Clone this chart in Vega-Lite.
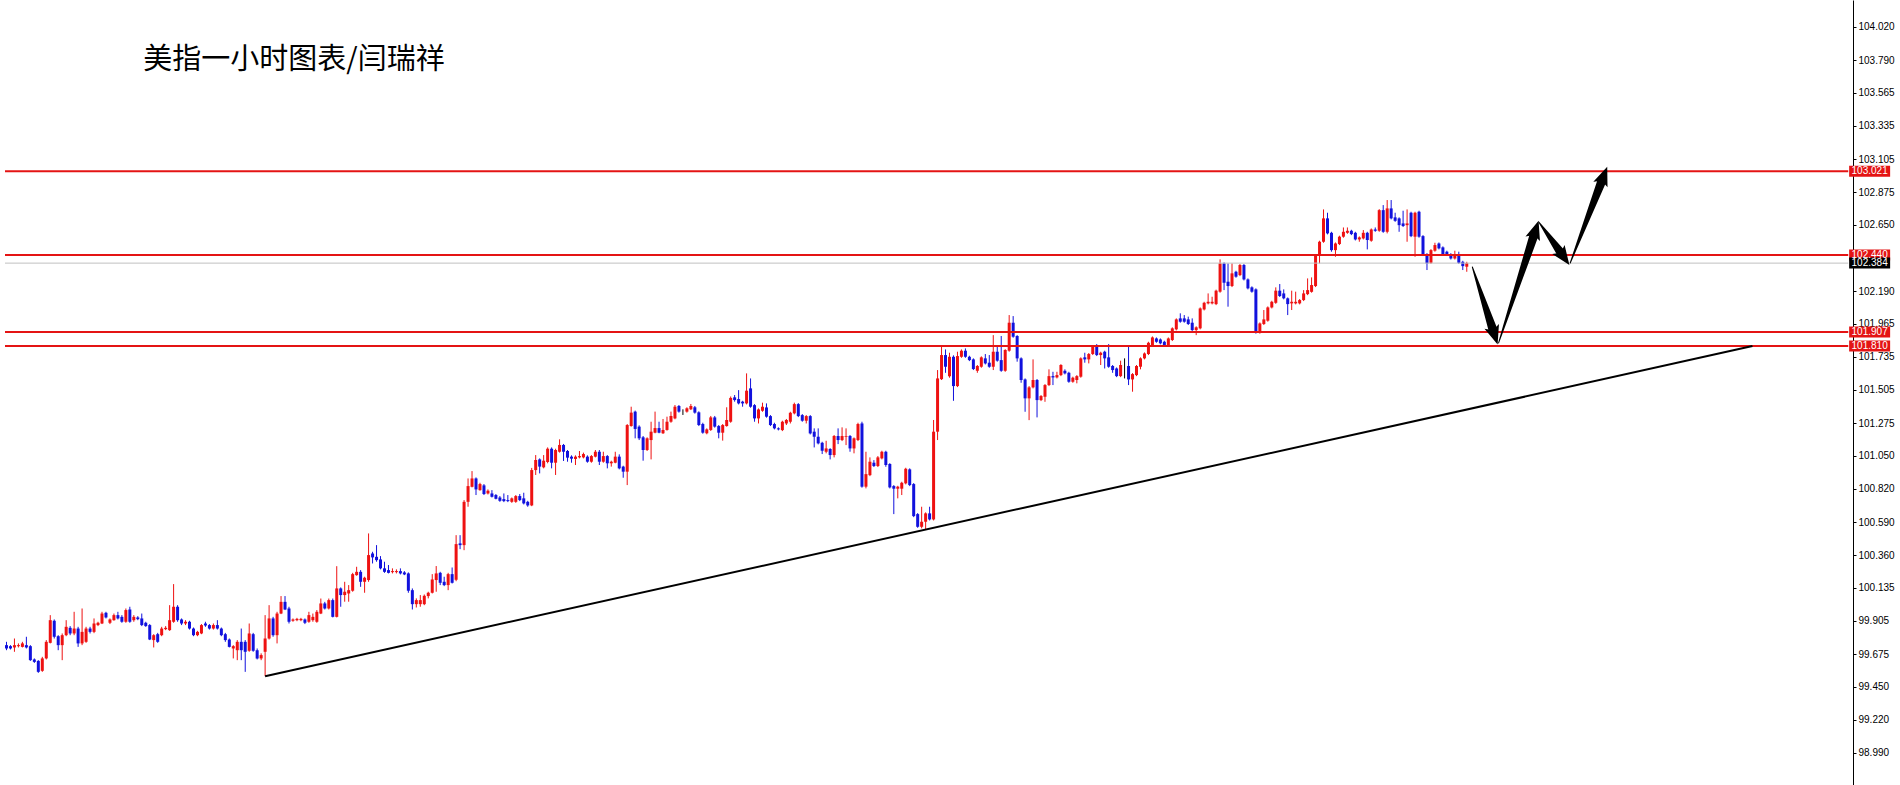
{
"$schema": "https://vega.github.io/schema/vega-lite/v6.json",
"width": 1900, "height": 785,
"autosize": {"type": "none"},
"padding": 0,
"background": "white",
"config": {"view": {"stroke": null}, "axis": {"labelOverlap": false}, "axisY": {"labelOverlap": false, "tickCount": 40}},
"datasets": {
"candles": [
{"i":0,"o":99.737,"h":99.760,"l":99.702,"c":99.714},
{"i":1,"o":99.730,"h":99.737,"l":99.707,"c":99.714},
{"i":2,"o":99.721,"h":99.783,"l":99.691,"c":99.737},
{"i":3,"o":99.730,"h":99.749,"l":99.721,"c":99.737},
{"i":4,"o":99.725,"h":99.760,"l":99.721,"c":99.749},
{"i":5,"o":99.737,"h":99.795,"l":99.714,"c":99.721},
{"i":6,"o":99.730,"h":99.737,"l":99.628,"c":99.633},
{"i":7,"o":99.638,"h":99.645,"l":99.614,"c":99.621},
{"i":8,"o":99.628,"h":99.633,"l":99.545,"c":99.552},
{"i":9,"o":99.559,"h":99.656,"l":99.552,"c":99.645},
{"i":10,"o":99.645,"h":99.772,"l":99.638,"c":99.760},
{"i":11,"o":99.753,"h":99.945,"l":99.749,"c":99.910},
{"i":12,"o":99.906,"h":99.915,"l":99.783,"c":99.795},
{"i":13,"o":99.799,"h":99.806,"l":99.702,"c":99.737},
{"i":14,"o":99.737,"h":99.818,"l":99.633,"c":99.806},
{"i":15,"o":99.806,"h":99.910,"l":99.799,"c":99.864},
{"i":16,"o":99.857,"h":99.869,"l":99.806,"c":99.818},
{"i":17,"o":99.818,"h":99.968,"l":99.806,"c":99.852},
{"i":18,"o":99.852,"h":99.864,"l":99.725,"c":99.749},
{"i":19,"o":99.749,"h":99.991,"l":99.737,"c":99.829},
{"i":20,"o":99.760,"h":99.864,"l":99.753,"c":99.852},
{"i":21,"o":99.852,"h":99.864,"l":99.818,"c":99.829},
{"i":22,"o":99.829,"h":99.922,"l":99.820,"c":99.887},
{"i":23,"o":99.876,"h":99.899,"l":99.869,"c":99.892},
{"i":24,"o":99.887,"h":99.968,"l":99.883,"c":99.956},
{"i":25,"o":99.961,"h":99.968,"l":99.922,"c":99.929},
{"i":26,"o":99.892,"h":99.922,"l":99.883,"c":99.915},
{"i":27,"o":99.910,"h":99.956,"l":99.906,"c":99.945},
{"i":28,"o":99.945,"h":99.968,"l":99.915,"c":99.922},
{"i":29,"o":99.933,"h":99.945,"l":99.892,"c":99.899},
{"i":30,"o":99.899,"h":99.991,"l":99.892,"c":99.980},
{"i":31,"o":99.984,"h":100.003,"l":99.892,"c":99.899},
{"i":32,"o":99.910,"h":99.945,"l":99.899,"c":99.933},
{"i":33,"o":99.929,"h":99.938,"l":99.910,"c":99.917},
{"i":34,"o":99.922,"h":99.956,"l":99.869,"c":99.876},
{"i":35,"o":99.892,"h":99.899,"l":99.864,"c":99.869},
{"i":36,"o":99.876,"h":99.883,"l":99.772,"c":99.776},
{"i":37,"o":99.772,"h":99.813,"l":99.721,"c":99.806},
{"i":38,"o":99.813,"h":99.822,"l":99.753,"c":99.760},
{"i":39,"o":99.806,"h":99.864,"l":99.799,"c":99.852},
{"i":40,"o":99.848,"h":99.869,"l":99.841,"c":99.857},
{"i":41,"o":99.841,"h":100.014,"l":99.836,"c":99.910},
{"i":42,"o":99.899,"h":100.160,"l":99.892,"c":100.003},
{"i":43,"o":100.003,"h":100.014,"l":99.899,"c":99.910},
{"i":44,"o":99.915,"h":99.922,"l":99.876,"c":99.887},
{"i":45,"o":99.887,"h":99.910,"l":99.876,"c":99.899},
{"i":46,"o":99.899,"h":99.906,"l":99.845,"c":99.852},
{"i":47,"o":99.852,"h":99.859,"l":99.799,"c":99.806},
{"i":48,"o":99.806,"h":99.836,"l":99.799,"c":99.829},
{"i":49,"o":99.818,"h":99.883,"l":99.813,"c":99.876},
{"i":50,"o":99.887,"h":99.899,"l":99.864,"c":99.873},
{"i":51,"o":99.876,"h":99.883,"l":99.845,"c":99.852},
{"i":52,"o":99.852,"h":99.887,"l":99.845,"c":99.876},
{"i":53,"o":99.876,"h":99.910,"l":99.845,"c":99.852},
{"i":54,"o":99.852,"h":99.859,"l":99.799,"c":99.806},
{"i":55,"o":99.813,"h":99.822,"l":99.760,"c":99.772},
{"i":56,"o":99.776,"h":99.783,"l":99.721,"c":99.725},
{"i":57,"o":99.714,"h":99.737,"l":99.645,"c":99.730},
{"i":58,"o":99.702,"h":99.772,"l":99.633,"c":99.760},
{"i":59,"o":99.760,"h":99.852,"l":99.633,"c":99.702},
{"i":60,"o":99.760,"h":99.772,"l":99.552,"c":99.691},
{"i":61,"o":99.698,"h":99.887,"l":99.691,"c":99.818},
{"i":62,"o":99.813,"h":99.822,"l":99.691,"c":99.698},
{"i":63,"o":99.702,"h":99.714,"l":99.638,"c":99.645},
{"i":64,"o":99.645,"h":99.680,"l":99.633,"c":99.668},
{"i":65,"o":99.691,"h":99.945,"l":99.522,"c":99.783},
{"i":66,"o":99.783,"h":100.014,"l":99.776,"c":99.922},
{"i":67,"o":99.922,"h":99.933,"l":99.795,"c":99.806},
{"i":68,"o":99.806,"h":99.968,"l":99.749,"c":99.956},
{"i":69,"o":99.956,"h":100.077,"l":99.952,"c":100.037},
{"i":70,"o":100.037,"h":100.077,"l":99.980,"c":99.984},
{"i":71,"o":99.991,"h":100.003,"l":99.887,"c":99.899},
{"i":72,"o":99.906,"h":99.922,"l":99.899,"c":99.915},
{"i":73,"o":99.910,"h":99.926,"l":99.903,"c":99.919},
{"i":74,"o":99.910,"h":99.926,"l":99.903,"c":99.919},
{"i":75,"o":99.915,"h":99.922,"l":99.883,"c":99.892},
{"i":76,"o":99.899,"h":99.968,"l":99.892,"c":99.945},
{"i":77,"o":99.910,"h":99.956,"l":99.899,"c":99.933},
{"i":78,"o":99.899,"h":99.980,"l":99.892,"c":99.968},
{"i":79,"o":99.956,"h":100.060,"l":99.952,"c":100.026},
{"i":80,"o":100.026,"h":100.037,"l":99.984,"c":99.991},
{"i":81,"o":99.991,"h":100.060,"l":99.984,"c":100.049},
{"i":82,"o":100.049,"h":100.060,"l":99.929,"c":99.933},
{"i":83,"o":99.933,"h":100.284,"l":99.929,"c":100.130},
{"i":84,"o":100.130,"h":100.137,"l":100.003,"c":100.084},
{"i":85,"o":100.084,"h":100.176,"l":100.038,"c":100.107},
{"i":86,"o":100.095,"h":100.153,"l":100.038,"c":100.118},
{"i":87,"o":100.114,"h":100.238,"l":100.107,"c":100.229},
{"i":88,"o":100.222,"h":100.280,"l":100.218,"c":100.245},
{"i":89,"o":100.245,"h":100.257,"l":100.141,"c":100.176},
{"i":90,"o":100.176,"h":100.211,"l":100.100,"c":100.204},
{"i":91,"o":100.188,"h":100.511,"l":100.176,"c":100.361},
{"i":92,"o":100.372,"h":100.384,"l":100.303,"c":100.345},
{"i":93,"o":100.349,"h":100.430,"l":100.315,"c":100.326},
{"i":94,"o":100.331,"h":100.354,"l":100.262,"c":100.269},
{"i":95,"o":100.269,"h":100.315,"l":100.238,"c":100.245},
{"i":96,"o":100.257,"h":100.292,"l":100.234,"c":100.238},
{"i":97,"o":100.243,"h":100.269,"l":100.234,"c":100.250},
{"i":98,"o":100.243,"h":100.262,"l":100.234,"c":100.250},
{"i":99,"o":100.250,"h":100.269,"l":100.227,"c":100.234},
{"i":100,"o":100.241,"h":100.250,"l":100.222,"c":100.227},
{"i":101,"o":100.234,"h":100.241,"l":100.100,"c":100.114},
{"i":102,"o":100.118,"h":100.130,"l":99.984,"c":100.021},
{"i":103,"o":100.021,"h":100.061,"l":99.998,"c":100.049},
{"i":104,"o":100.021,"h":100.084,"l":100.003,"c":100.049},
{"i":105,"o":100.021,"h":100.088,"l":100.014,"c":100.079},
{"i":106,"o":100.077,"h":100.107,"l":100.061,"c":100.100},
{"i":107,"o":100.100,"h":100.229,"l":100.095,"c":100.192},
{"i":108,"o":100.188,"h":100.285,"l":100.107,"c":100.234},
{"i":109,"o":100.238,"h":100.245,"l":100.153,"c":100.169},
{"i":110,"o":100.176,"h":100.211,"l":100.146,"c":100.153},
{"i":111,"o":100.153,"h":100.238,"l":100.118,"c":100.229},
{"i":112,"o":100.229,"h":100.275,"l":100.164,"c":100.169},
{"i":113,"o":100.190,"h":100.499,"l":100.180,"c":100.437},
{"i":114,"o":100.442,"h":100.499,"l":100.402,"c":100.430},
{"i":115,"o":100.430,"h":100.742,"l":100.395,"c":100.730},
{"i":116,"o":100.730,"h":100.892,"l":100.696,"c":100.839},
{"i":117,"o":100.834,"h":100.943,"l":100.830,"c":100.892},
{"i":118,"o":100.892,"h":100.899,"l":100.777,"c":100.816},
{"i":119,"o":100.811,"h":100.862,"l":100.807,"c":100.853},
{"i":120,"o":100.844,"h":100.853,"l":100.777,"c":100.784},
{"i":121,"o":100.788,"h":100.816,"l":100.781,"c":100.807},
{"i":122,"o":100.788,"h":100.811,"l":100.760,"c":100.765},
{"i":123,"o":100.777,"h":100.784,"l":100.747,"c":100.751},
{"i":124,"o":100.760,"h":100.770,"l":100.730,"c":100.737},
{"i":125,"o":100.749,"h":100.788,"l":100.728,"c":100.735},
{"i":126,"o":100.742,"h":100.777,"l":100.728,"c":100.735},
{"i":127,"o":100.730,"h":100.760,"l":100.723,"c":100.754},
{"i":128,"o":100.730,"h":100.777,"l":100.723,"c":100.770},
{"i":129,"o":100.770,"h":100.784,"l":100.735,"c":100.742},
{"i":130,"o":100.754,"h":100.793,"l":100.712,"c":100.719},
{"i":131,"o":100.730,"h":100.737,"l":100.696,"c":100.705},
{"i":132,"o":100.705,"h":100.965,"l":100.700,"c":100.950},
{"i":133,"o":100.950,"h":101.054,"l":100.916,"c":101.020},
{"i":134,"o":101.024,"h":101.031,"l":100.927,"c":100.974},
{"i":135,"o":100.969,"h":101.054,"l":100.962,"c":101.015},
{"i":136,"o":101.006,"h":101.107,"l":100.997,"c":101.098},
{"i":137,"o":101.098,"h":101.107,"l":100.962,"c":101.001},
{"i":138,"o":101.001,"h":101.098,"l":100.916,"c":101.089},
{"i":139,"o":101.077,"h":101.163,"l":101.071,"c":101.124},
{"i":140,"o":101.124,"h":101.131,"l":101.013,"c":101.077},
{"i":141,"o":101.082,"h":101.089,"l":101.008,"c":101.036},
{"i":142,"o":101.043,"h":101.052,"l":101.001,"c":101.029},
{"i":143,"o":101.027,"h":101.052,"l":100.985,"c":101.043},
{"i":144,"o":101.038,"h":101.082,"l":101.031,"c":101.047},
{"i":145,"o":101.038,"h":101.071,"l":101.031,"c":101.061},
{"i":146,"o":101.043,"h":101.052,"l":101.001,"c":101.008},
{"i":147,"o":101.008,"h":101.054,"l":101.001,"c":101.047},
{"i":148,"o":101.043,"h":101.089,"l":101.038,"c":101.077},
{"i":149,"o":101.077,"h":101.089,"l":100.985,"c":101.008},
{"i":150,"o":101.008,"h":101.077,"l":101.001,"c":101.047},
{"i":151,"o":101.047,"h":101.054,"l":100.962,"c":100.997},
{"i":152,"o":100.997,"h":101.015,"l":100.974,"c":101.008},
{"i":153,"o":101.001,"h":101.077,"l":100.997,"c":101.043},
{"i":154,"o":101.043,"h":101.059,"l":100.955,"c":100.962},
{"i":155,"o":100.974,"h":100.980,"l":100.897,"c":100.939},
{"i":156,"o":100.939,"h":101.269,"l":100.846,"c":101.262},
{"i":157,"o":101.255,"h":101.389,"l":101.251,"c":101.348},
{"i":158,"o":101.355,"h":101.362,"l":101.170,"c":101.235},
{"i":159,"o":101.251,"h":101.260,"l":101.158,"c":101.170},
{"i":160,"o":101.177,"h":101.186,"l":101.015,"c":101.089},
{"i":161,"o":101.089,"h":101.177,"l":101.082,"c":101.170},
{"i":162,"o":101.158,"h":101.285,"l":101.024,"c":101.216},
{"i":163,"o":101.209,"h":101.355,"l":101.205,"c":101.241},
{"i":164,"o":101.241,"h":101.285,"l":101.205,"c":101.209},
{"i":165,"o":101.205,"h":101.304,"l":101.200,"c":101.228},
{"i":166,"o":101.228,"h":101.320,"l":101.223,"c":101.285},
{"i":167,"o":101.285,"h":101.355,"l":101.278,"c":101.325},
{"i":168,"o":101.308,"h":101.401,"l":101.302,"c":101.389},
{"i":169,"o":101.394,"h":101.401,"l":101.348,"c":101.355},
{"i":170,"o":101.355,"h":101.371,"l":101.332,"c":101.355},
{"i":171,"o":101.355,"h":101.385,"l":101.348,"c":101.378},
{"i":172,"o":101.371,"h":101.408,"l":101.366,"c":101.394},
{"i":173,"o":101.385,"h":101.394,"l":101.341,"c":101.348},
{"i":174,"o":101.350,"h":101.357,"l":101.255,"c":101.262},
{"i":175,"o":101.269,"h":101.278,"l":101.202,"c":101.209},
{"i":176,"o":101.205,"h":101.239,"l":101.198,"c":101.232},
{"i":177,"o":101.228,"h":101.325,"l":101.221,"c":101.315},
{"i":178,"o":101.315,"h":101.325,"l":101.244,"c":101.251},
{"i":179,"o":101.255,"h":101.262,"l":101.170,"c":101.209},
{"i":180,"o":101.209,"h":101.269,"l":101.154,"c":101.262},
{"i":181,"o":101.255,"h":101.385,"l":101.251,"c":101.297},
{"i":182,"o":101.285,"h":101.460,"l":101.278,"c":101.450},
{"i":183,"o":101.454,"h":101.470,"l":101.424,"c":101.435},
{"i":184,"o":101.442,"h":101.504,"l":101.405,"c":101.412},
{"i":185,"o":101.424,"h":101.430,"l":101.389,"c":101.412},
{"i":186,"o":101.412,"h":101.620,"l":101.405,"c":101.500},
{"i":187,"o":101.516,"h":101.585,"l":101.382,"c":101.389},
{"i":188,"o":101.400,"h":101.407,"l":101.285,"c":101.308},
{"i":189,"o":101.308,"h":101.377,"l":101.273,"c":101.370},
{"i":190,"o":101.361,"h":101.417,"l":101.354,"c":101.389},
{"i":191,"o":101.384,"h":101.412,"l":101.313,"c":101.320},
{"i":192,"o":101.324,"h":101.331,"l":101.255,"c":101.262},
{"i":193,"o":101.269,"h":101.278,"l":101.232,"c":101.239},
{"i":194,"o":101.239,"h":101.246,"l":101.225,"c":101.232},
{"i":195,"o":101.227,"h":101.292,"l":101.220,"c":101.285},
{"i":196,"o":101.273,"h":101.304,"l":101.262,"c":101.297},
{"i":197,"o":101.285,"h":101.354,"l":101.273,"c":101.347},
{"i":198,"o":101.343,"h":101.417,"l":101.336,"c":101.407},
{"i":199,"o":101.407,"h":101.414,"l":101.317,"c":101.324},
{"i":200,"o":101.331,"h":101.338,"l":101.285,"c":101.292},
{"i":201,"o":101.292,"h":101.331,"l":101.273,"c":101.324},
{"i":202,"o":101.324,"h":101.331,"l":101.197,"c":101.204},
{"i":203,"o":101.216,"h":101.239,"l":101.107,"c":101.181},
{"i":204,"o":101.181,"h":101.239,"l":101.128,"c":101.135},
{"i":205,"o":101.139,"h":101.146,"l":101.061,"c":101.084},
{"i":206,"o":101.077,"h":101.153,"l":101.066,"c":101.100},
{"i":207,"o":101.096,"h":101.102,"l":101.024,"c":101.054},
{"i":208,"o":101.054,"h":101.193,"l":101.038,"c":101.186},
{"i":209,"o":101.186,"h":101.239,"l":101.130,"c":101.158},
{"i":210,"o":101.158,"h":101.246,"l":101.151,"c":101.186},
{"i":211,"o":101.181,"h":101.239,"l":101.123,"c":101.186},
{"i":212,"o":101.186,"h":101.193,"l":101.077,"c":101.100},
{"i":213,"o":101.100,"h":101.176,"l":101.066,"c":101.170},
{"i":214,"o":101.158,"h":101.278,"l":101.151,"c":101.269},
{"i":215,"o":101.273,"h":101.285,"l":100.828,"c":100.835},
{"i":216,"o":100.835,"h":101.077,"l":100.823,"c":100.922},
{"i":217,"o":100.915,"h":101.038,"l":100.908,"c":101.008},
{"i":218,"o":101.001,"h":101.019,"l":100.971,"c":100.978},
{"i":219,"o":100.978,"h":101.047,"l":100.971,"c":101.038},
{"i":220,"o":101.031,"h":101.084,"l":101.024,"c":101.077},
{"i":221,"o":101.077,"h":101.084,"l":100.973,"c":100.985},
{"i":222,"o":100.992,"h":100.998,"l":100.823,"c":100.830},
{"i":223,"o":100.839,"h":100.846,"l":100.645,"c":100.821},
{"i":224,"o":100.821,"h":100.841,"l":100.754,"c":100.835},
{"i":225,"o":100.821,"h":100.869,"l":100.777,"c":100.862},
{"i":226,"o":100.858,"h":100.966,"l":100.851,"c":100.959},
{"i":227,"o":100.955,"h":100.962,"l":100.839,"c":100.846},
{"i":228,"o":100.853,"h":100.860,"l":100.624,"c":100.631},
{"i":229,"o":100.645,"h":100.652,"l":100.550,"c":100.557},
{"i":230,"o":100.557,"h":100.696,"l":100.546,"c":100.592},
{"i":231,"o":100.592,"h":100.657,"l":100.539,"c":100.650},
{"i":232,"o":100.650,"h":100.696,"l":100.601,"c":100.608},
{"i":233,"o":100.608,"h":101.297,"l":100.601,"c":101.216},
{"i":234,"o":101.216,"h":101.643,"l":101.158,"c":101.585},
{"i":235,"o":101.580,"h":101.805,"l":101.574,"c":101.747},
{"i":236,"o":101.747,"h":101.786,"l":101.624,"c":101.666},
{"i":237,"o":101.600,"h":101.763,"l":101.590,"c":101.735},
{"i":238,"o":101.735,"h":101.745,"l":101.430,"c":101.532},
{"i":239,"o":101.532,"h":101.770,"l":101.525,"c":101.740},
{"i":240,"o":101.735,"h":101.786,"l":101.728,"c":101.777},
{"i":241,"o":101.777,"h":101.793,"l":101.728,"c":101.735},
{"i":242,"o":101.735,"h":101.742,"l":101.705,"c":101.712},
{"i":243,"o":101.717,"h":101.724,"l":101.643,"c":101.650},
{"i":244,"o":101.638,"h":101.678,"l":101.624,"c":101.671},
{"i":245,"o":101.666,"h":101.738,"l":101.659,"c":101.731},
{"i":246,"o":101.724,"h":101.754,"l":101.682,"c":101.689},
{"i":247,"o":101.694,"h":101.747,"l":101.659,"c":101.666},
{"i":248,"o":101.666,"h":101.885,"l":101.643,"c":101.770},
{"i":249,"o":101.770,"h":101.805,"l":101.701,"c":101.708},
{"i":250,"o":101.712,"h":101.879,"l":101.631,"c":101.638},
{"i":251,"o":101.638,"h":101.788,"l":101.631,"c":101.782},
{"i":252,"o":101.777,"h":102.024,"l":101.770,"c":101.971},
{"i":253,"o":101.971,"h":102.017,"l":101.867,"c":101.874},
{"i":254,"o":101.879,"h":101.885,"l":101.701,"c":101.724},
{"i":255,"o":101.724,"h":101.731,"l":101.555,"c":101.574},
{"i":256,"o":101.578,"h":101.585,"l":101.354,"c":101.447},
{"i":257,"o":101.447,"h":101.532,"l":101.296,"c":101.523},
{"i":258,"o":101.523,"h":101.717,"l":101.516,"c":101.574},
{"i":259,"o":101.574,"h":101.581,"l":101.315,"c":101.435},
{"i":260,"o":101.435,"h":101.470,"l":101.428,"c":101.463},
{"i":261,"o":101.458,"h":101.546,"l":101.423,"c":101.539},
{"i":262,"o":101.539,"h":101.648,"l":101.532,"c":101.601},
{"i":263,"o":101.601,"h":101.631,"l":101.539,"c":101.592},
{"i":264,"o":101.592,"h":101.631,"l":101.585,"c":101.608},
{"i":265,"o":101.608,"h":101.684,"l":101.601,"c":101.678},
{"i":266,"o":101.638,"h":101.648,"l":101.613,"c":101.620},
{"i":267,"o":101.624,"h":101.631,"l":101.555,"c":101.562},
{"i":268,"o":101.562,"h":101.597,"l":101.555,"c":101.590},
{"i":269,"o":101.574,"h":101.608,"l":101.551,"c":101.601},
{"i":270,"o":101.597,"h":101.731,"l":101.590,"c":101.724},
{"i":271,"o":101.731,"h":101.763,"l":101.694,"c":101.717},
{"i":272,"o":101.717,"h":101.761,"l":101.689,"c":101.754},
{"i":273,"o":101.754,"h":101.816,"l":101.747,"c":101.809},
{"i":274,"o":101.809,"h":101.823,"l":101.740,"c":101.747},
{"i":275,"o":101.747,"h":101.770,"l":101.678,"c":101.763},
{"i":276,"o":101.770,"h":101.777,"l":101.654,"c":101.724},
{"i":277,"o":101.731,"h":101.823,"l":101.659,"c":101.666},
{"i":278,"o":101.671,"h":101.678,"l":101.624,"c":101.643},
{"i":279,"o":101.654,"h":101.661,"l":101.594,"c":101.601},
{"i":280,"o":101.601,"h":101.708,"l":101.594,"c":101.678},
{"i":281,"o":101.671,"h":101.724,"l":101.585,"c":101.671},
{"i":282,"o":101.671,"h":101.805,"l":101.539,"c":101.578},
{"i":283,"o":101.578,"h":101.622,"l":101.493,"c":101.615},
{"i":284,"o":101.608,"h":101.678,"l":101.601,"c":101.671},
{"i":285,"o":101.666,"h":101.731,"l":101.648,"c":101.724},
{"i":286,"o":101.724,"h":101.765,"l":101.717,"c":101.758},
{"i":287,"o":101.754,"h":101.839,"l":101.747,"c":101.832},
{"i":288,"o":101.816,"h":101.876,"l":101.809,"c":101.869},
{"i":289,"o":101.862,"h":101.869,"l":101.832,"c":101.839},
{"i":290,"o":101.855,"h":101.862,"l":101.821,"c":101.828},
{"i":291,"o":101.839,"h":101.846,"l":101.809,"c":101.816},
{"i":292,"o":101.816,"h":101.869,"l":101.809,"c":101.862},
{"i":293,"o":101.851,"h":101.939,"l":101.844,"c":101.932},
{"i":294,"o":101.925,"h":102.001,"l":101.918,"c":101.994},
{"i":295,"o":102.001,"h":102.036,"l":101.971,"c":101.978},
{"i":296,"o":102.001,"h":102.024,"l":101.971,"c":101.978},
{"i":297,"o":101.994,"h":102.013,"l":101.955,"c":101.962},
{"i":298,"o":101.971,"h":102.001,"l":101.913,"c":101.920},
{"i":299,"o":101.920,"h":101.946,"l":101.885,"c":101.939},
{"i":300,"o":101.932,"h":102.077,"l":101.925,"c":102.070},
{"i":301,"o":102.063,"h":102.116,"l":102.056,"c":102.109},
{"i":302,"o":102.105,"h":102.174,"l":102.098,"c":102.116},
{"i":303,"o":102.105,"h":102.151,"l":102.098,"c":102.116},
{"i":304,"o":102.100,"h":102.200,"l":102.093,"c":102.193},
{"i":305,"o":102.186,"h":102.410,"l":102.179,"c":102.382},
{"i":306,"o":102.382,"h":102.389,"l":102.197,"c":102.248},
{"i":307,"o":102.255,"h":102.382,"l":102.082,"c":102.225},
{"i":308,"o":102.225,"h":102.382,"l":102.218,"c":102.313},
{"i":309,"o":102.324,"h":102.331,"l":102.283,"c":102.290},
{"i":310,"o":102.301,"h":102.378,"l":102.294,"c":102.371},
{"i":311,"o":102.371,"h":102.378,"l":102.264,"c":102.271},
{"i":312,"o":102.271,"h":102.278,"l":102.202,"c":102.209},
{"i":313,"o":102.216,"h":102.223,"l":102.179,"c":102.186},
{"i":314,"o":102.202,"h":102.209,"l":101.895,"c":101.902},
{"i":315,"o":101.902,"h":101.973,"l":101.895,"c":101.966},
{"i":316,"o":101.962,"h":102.059,"l":101.955,"c":101.994},
{"i":317,"o":101.985,"h":102.084,"l":101.978,"c":102.077},
{"i":318,"o":102.077,"h":102.123,"l":102.070,"c":102.116},
{"i":319,"o":102.109,"h":102.216,"l":102.102,"c":102.193},
{"i":320,"o":102.193,"h":102.239,"l":102.149,"c":102.156},
{"i":321,"o":102.174,"h":102.202,"l":102.133,"c":102.140},
{"i":322,"o":102.140,"h":102.146,"l":102.024,"c":102.100},
{"i":323,"o":102.105,"h":102.193,"l":102.059,"c":102.116},
{"i":324,"o":102.105,"h":102.186,"l":102.098,"c":102.116},
{"i":325,"o":102.105,"h":102.135,"l":102.098,"c":102.128},
{"i":326,"o":102.128,"h":102.197,"l":102.121,"c":102.174},
{"i":327,"o":102.169,"h":102.278,"l":102.162,"c":102.197},
{"i":328,"o":102.185,"h":102.285,"l":102.179,"c":102.232},
{"i":329,"o":102.225,"h":102.446,"l":102.218,"c":102.440},
{"i":330,"o":102.440,"h":102.539,"l":102.382,"c":102.532},
{"i":331,"o":102.532,"h":102.756,"l":102.525,"c":102.694},
{"i":332,"o":102.694,"h":102.733,"l":102.583,"c":102.590},
{"i":333,"o":102.594,"h":102.601,"l":102.463,"c":102.474},
{"i":334,"o":102.474,"h":102.527,"l":102.428,"c":102.520},
{"i":335,"o":102.516,"h":102.574,"l":102.509,"c":102.567},
{"i":336,"o":102.567,"h":102.631,"l":102.560,"c":102.601},
{"i":337,"o":102.594,"h":102.631,"l":102.587,"c":102.608},
{"i":338,"o":102.608,"h":102.615,"l":102.578,"c":102.585},
{"i":339,"o":102.594,"h":102.601,"l":102.541,"c":102.548},
{"i":340,"o":102.548,"h":102.569,"l":102.532,"c":102.562},
{"i":341,"o":102.555,"h":102.613,"l":102.548,"c":102.594},
{"i":342,"o":102.594,"h":102.601,"l":102.479,"c":102.544},
{"i":343,"o":102.539,"h":102.624,"l":102.532,"c":102.617},
{"i":344,"o":102.617,"h":102.631,"l":102.601,"c":102.608},
{"i":345,"o":102.608,"h":102.758,"l":102.601,"c":102.751},
{"i":346,"o":102.751,"h":102.786,"l":102.594,"c":102.601},
{"i":347,"o":102.601,"h":102.821,"l":102.590,"c":102.763},
{"i":348,"o":102.763,"h":102.821,"l":102.687,"c":102.694},
{"i":349,"o":102.701,"h":102.733,"l":102.670,"c":102.677},
{"i":350,"o":102.694,"h":102.701,"l":102.601,"c":102.647},
{"i":351,"o":102.659,"h":102.747,"l":102.634,"c":102.641},
{"i":352,"o":102.647,"h":102.756,"l":102.532,"c":102.659},
{"i":353,"o":102.733,"h":102.740,"l":102.564,"c":102.571},
{"i":354,"o":102.567,"h":102.740,"l":102.428,"c":102.733},
{"i":355,"o":102.740,"h":102.747,"l":102.560,"c":102.567},
{"i":356,"o":102.571,"h":102.578,"l":102.433,"c":102.440},
{"i":357,"o":102.446,"h":102.453,"l":102.336,"c":102.382},
{"i":358,"o":102.386,"h":102.481,"l":102.379,"c":102.474},
{"i":359,"o":102.470,"h":102.525,"l":102.463,"c":102.509},
{"i":360,"o":102.520,"h":102.527,"l":102.479,"c":102.486},
{"i":361,"o":102.493,"h":102.500,"l":102.440,"c":102.446},
{"i":362,"o":102.463,"h":102.470,"l":102.433,"c":102.440},
{"i":363,"o":102.446,"h":102.453,"l":102.409,"c":102.416},
{"i":364,"o":102.416,"h":102.470,"l":102.409,"c":102.440},
{"i":365,"o":102.440,"h":102.463,"l":102.379,"c":102.386},
{"i":366,"o":102.393,"h":102.400,"l":102.336,"c":102.363},
{"i":367,"o":102.359,"h":102.393,"l":102.324,"c":102.384}
],
"levels": [
{"price":103.021,"kind":"level"},
{"price":102.440,"kind":"level"},
{"price":101.907,"kind":"level"},
{"price":101.810,"kind":"level"},
{"price":102.384,"kind":"current"}
],
"trend": [{"i1":65.0,"p1":99.522,"i2":438.8,"p2":101.809}],
"shafts": [
{"arrow":1,"seq":0,"i":368.4,"p":102.357},
{"arrow":1,"seq":1,"i":373.7,"p":101.912},
{"arrow":2,"seq":0,"i":375.0,"p":101.831},
{"arrow":2,"seq":1,"i":384.0,"p":102.586},
{"arrow":3,"seq":0,"i":385.1,"p":102.669},
{"arrow":3,"seq":1,"i":390.8,"p":102.450},
{"arrow":4,"seq":0,"i":393.0,"p":102.385},
{"arrow":4,"seq":1,"i":401.05,"p":102.961}
],
"tips": [
{"arrow":1,"i":374.75,"p":101.820},
{"arrow":2,"i":385.05,"p":102.678},
{"arrow":3,"i":392.8,"p":102.371},
{"arrow":4,"i":402.3,"p":103.052}
],
"title": [{"text":"美指一小时图表/闫瑞祥"}]
},
"layer": [
{
"data": {"name": "candles"},
"mark": {"type": "rule", "strokeWidth": 1},
"encoding": {
"x": {"field": "i", "type": "quantitative", "scale": {"domain": [-0.375, 474.625], "nice": false, "zero": false}, "axis": null, "title": null},
"y": {"field": "l", "type": "quantitative", "scale": {"domain": [98.768, 104.207], "nice": false, "zero": false}, "title": null,
"axis": {"orient": "right", "offset": -47, "tickCount": 40, "values": [104.02,103.79,103.565,103.335,103.105,102.875,102.65,102.19,101.965,101.735,101.505,101.275,101.05,100.82,100.59,100.36,100.135,99.905,99.675,99.45,99.22,98.99],
"format": ".3f", "grid": false, "labelOverlap": false, "labelFont": "Liberation Sans", "labelFontSize": 10, "labelColor": "#000000",
"domainColor": "#000000", "domainWidth": 1, "tickColor": "#000000", "tickWidth": 1, "tickSize": 3, "labelPadding": 2, "labelBaseline": "middle"}},
"y2": {"field": "h"},
"color": {"condition": [{"test": "datum.c > datum.o", "value": "#ee1111"}, {"test": "datum.c < datum.o", "value": "#1111dd"}], "value": "#000000"}
}
},
{
"data": {"name": "candles"},
"mark": {"type": "bar", "size": 3},
"encoding": {
"x": {"field": "i", "type": "quantitative", "scale": {"domain": [-0.375, 474.625], "nice": false, "zero": false}, "title": null},
"y": {"field": "o", "type": "quantitative", "title": null},
"y2": {"field": "c"},
"color": {"condition": [{"test": "datum.c > datum.o", "value": "#ee1111"}, {"test": "datum.c < datum.o", "value": "#1111dd"}], "value": "#000000"}
}
},
{
"data": {"name": "levels"},
"transform": [{"filter": "datum.kind === 'current'"}],
"mark": {"type": "rule", "color": "#c0c0c0", "strokeWidth": 1},
"encoding": {
"x": {"datum": -0.375, "type": "quantitative"},
"x2": {"datum": 462.875},
"y": {"field": "price", "type": "quantitative", "title": null}
}
},
{
"data": {"name": "levels"},
"transform": [{"filter": "datum.kind === 'level'"}],
"mark": {"type": "rule", "color": "#e41414", "strokeWidth": 2},
"encoding": {
"x": {"datum": -0.375, "type": "quantitative"},
"x2": {"datum": 462.875},
"y": {"field": "price", "type": "quantitative", "title": null}
}
},
{
"data": {"name": "trend"},
"mark": {"type": "rule", "color": "#000000", "strokeWidth": 2},
"encoding": {
"x": {"field": "i1", "type": "quantitative", "title": null},
"x2": {"field": "i2"},
"y": {"field": "p1", "type": "quantitative", "title": null},
"y2": {"field": "p2"}
}
},
{
"data": {"name": "shafts"},
"mark": {"type": "trail", "color": "#000000"},
"encoding": {
"x": {"field": "i", "type": "quantitative", "title": null},
"y": {"field": "p", "type": "quantitative", "title": null},
"detail": {"field": "arrow", "type": "nominal"},
"order": {"field": "seq", "type": "quantitative"},
"size": {"field": "seq", "type": "quantitative", "scale": {"domain": [0, 1], "range": [1, 9]}, "legend": null}
}
},
{
"data": {"name": "tips"},
"transform": [{"filter": "datum.arrow === 1"}],
"mark": {"type": "point", "filled": true, "opacity": 1, "color": "#000000", "strokeWidth": 0, "size": 1600, "angle": 162, "shape": "M0,0L-0.38,0.95L0,0.75L0.38,0.95Z"},
"encoding": {"x": {"field": "i", "type": "quantitative", "title": null}, "y": {"field": "p", "type": "quantitative", "title": null}}
},
{
"data": {"name": "tips"},
"transform": [{"filter": "datum.arrow === 2"}],
"mark": {"type": "point", "filled": true, "opacity": 1, "color": "#000000", "strokeWidth": 0, "size": 1600, "angle": 18, "shape": "M0,0L-0.38,0.95L0,0.75L0.38,0.95Z"},
"encoding": {"x": {"field": "i", "type": "quantitative", "title": null}, "y": {"field": "p", "type": "quantitative", "title": null}}
},
{
"data": {"name": "tips"},
"transform": [{"filter": "datum.arrow === 3"}],
"mark": {"type": "point", "filled": true, "opacity": 1, "color": "#000000", "strokeWidth": 0, "size": 1600, "angle": 144.5, "shape": "M0,0L-0.38,0.95L0,0.75L0.38,0.95Z"},
"encoding": {"x": {"field": "i", "type": "quantitative", "title": null}, "y": {"field": "p", "type": "quantitative", "title": null}}
},
{
"data": {"name": "tips"},
"transform": [{"filter": "datum.arrow === 4"}],
"mark": {"type": "point", "filled": true, "opacity": 1, "color": "#000000", "strokeWidth": 0, "size": 1600, "angle": 21, "shape": "M0,0L-0.38,0.95L0,0.75L0.38,0.95Z"},
"encoding": {"x": {"field": "i", "type": "quantitative", "title": null}, "y": {"field": "p", "type": "quantitative", "title": null}}
},
{
"data": {"name": "levels"},
"mark": {"type": "point", "filled": true, "opacity": 1, "strokeWidth": 0, "size": 1681, "shape": "M-1,-0.268H1V0.268H-1Z"},
"encoding": {
"x": {"datum": 468.25, "type": "quantitative"},
"y": {"field": "price", "type": "quantitative", "title": null},
"color": {"field": "kind", "type": "nominal", "scale": {"domain": ["level", "current"], "range": ["#e41414", "#000000"]}, "legend": null}
}
},
{
"data": {"name": "levels"},
"mark": {"type": "text", "color": "#ffffff", "font": "Liberation Sans", "fontSize": 10, "align": "center", "baseline": "middle"},
"encoding": {
"x": {"datum": 468.25, "type": "quantitative"},
"y": {"field": "price", "type": "quantitative", "title": null},
"text": {"field": "price", "type": "quantitative", "format": ".3f"}
}
},
{
"data": {"name": "title"},
"mark": {"type": "text", "color": "#000000", "font": "Noto Sans CJK SC", "fontSize": 29, "align": "left", "baseline": "middle"},
"encoding": {
"x": {"datum": 34.4, "type": "quantitative"},
"y": {"datum": 103.791, "type": "quantitative"},
"text": {"field": "text"}
}
}
]
}
